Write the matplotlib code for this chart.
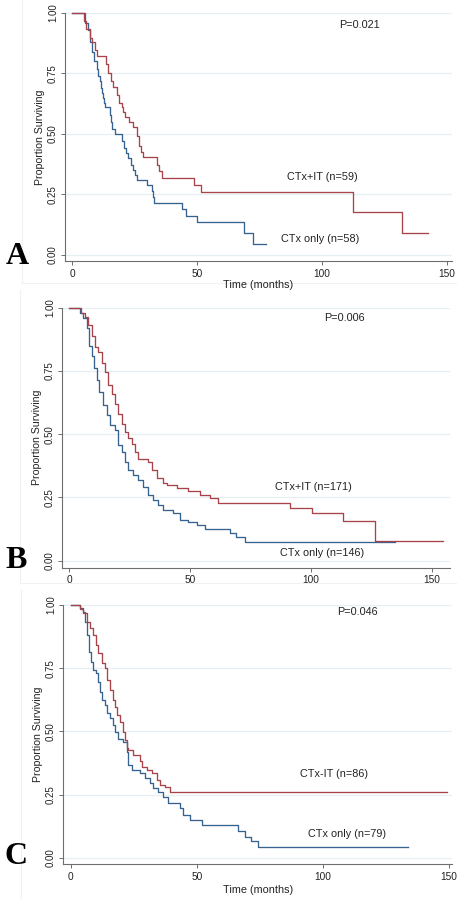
import matplotlib
matplotlib.use("Agg")
import matplotlib.pyplot as plt
from matplotlib.lines import Line2D

W, H = 457, 899
DPI = 100

# ---------------- data ----------------
# Panel A
a_it_t = [0, 4.8, 5.7, 7.0, 8.0, 9.0, 10.0, 13.6, 14.5, 15.5, 16.3, 18.1, 18.9, 19.9, 20.4, 21.0,
          22.9, 24.5, 26.1, 26.8, 27.5, 28.3, 34.1, 34.9, 35.9, 48.8, 51.7, 112.5, 131.9, 142.3]
a_it_s = [1.0, 0.966, 0.932, 0.898, 0.881, 0.847, 0.822, 0.788, 0.754, 0.72, 0.695, 0.661, 0.627, 0.61, 0.59, 0.569,
          0.551, 0.53, 0.49, 0.45, 0.425, 0.404, 0.37, 0.345, 0.317, 0.289, 0.262, 0.176, 0.089, 0.089]
a_ct_t = [0, 5.2, 6.5, 7.2, 7.9, 8.8, 9.9, 10.5, 11.2, 11.6, 12.1, 12.5, 12.9, 13.2, 15.2, 15.6, 15.9,
          17.2, 19.9, 20.8, 21.6, 22.5, 23.5, 24.5, 25.2, 26.1, 29.9, 31.9, 32.5, 32.8, 43.9, 45.6, 50.1,
          68.8, 72.5, 77.6]
a_ct_s = [1.0, 0.96, 0.93, 0.88, 0.84, 0.80, 0.77, 0.74, 0.72, 0.69, 0.67, 0.65, 0.63, 0.61, 0.58, 0.55, 0.52,
          0.50, 0.47, 0.44, 0.42, 0.40, 0.37, 0.35, 0.33, 0.31, 0.29, 0.265, 0.24, 0.215, 0.19, 0.16, 0.135,
          0.0895, 0.044, 0.044]

# Panel B
b_it_t = [0, 5.0, 6.6, 8.0, 9.4, 10.7, 12.1, 13.5, 14.9, 16.3, 17.6, 19.0, 20.4, 21.8, 23.1, 24.5, 25.9,
          27.3, 28.7, 32.8, 34.2, 36.2, 39.0, 40.4, 44.5, 49.3, 54.1, 58.3, 61.7, 91.3, 100.2, 113.0, 126.4, 154.6]
b_it_s = [1.0, 0.98, 0.965, 0.93, 0.89, 0.846, 0.826, 0.78, 0.747, 0.694, 0.66, 0.62, 0.58, 0.54, 0.51, 0.484,
          0.46, 0.43, 0.40, 0.39, 0.358, 0.328, 0.306, 0.30, 0.286, 0.275, 0.26, 0.246, 0.227, 0.207, 0.187,
          0.157, 0.078, 0.078]
b_ct_t = [0, 4.5, 5.9, 7.3, 8.4, 9.4, 10.5, 11.4, 12.5, 14.2, 15.6, 16.9, 19.0, 20.4, 21.8, 23.1, 24.5,
          26.6, 28.7, 30.7, 32.8, 34.8, 36.9, 39.0, 43.0, 45.9, 49.3, 52.8, 56.2, 66.5, 69.0, 72.7, 134.7]
b_ct_s = [1.0, 0.98, 0.96, 0.92, 0.85, 0.81, 0.76, 0.714, 0.668, 0.615, 0.576, 0.536, 0.516, 0.457, 0.43,
          0.39, 0.358, 0.339, 0.319, 0.29, 0.26, 0.24, 0.22, 0.20, 0.187, 0.16, 0.152, 0.141, 0.124, 0.111,
          0.095, 0.072, 0.072]

# Panel C
c_it_t = [0, 3.7, 5.0, 6.3, 7.7, 9.0, 10.0, 11.0, 12.3, 13.6, 14.6, 15.6, 16.7, 17.6, 18.5, 19.6, 20.6,
          21.6, 22.2, 22.9, 24.9, 27.5, 28.2, 30.2, 32.1, 34.1, 35.4, 37.4, 39.4, 149.3]
c_it_s = [1.0, 0.985, 0.967, 0.934, 0.908, 0.881, 0.842, 0.809, 0.769, 0.749, 0.703, 0.664, 0.624, 0.598,
          0.565, 0.538, 0.499, 0.466, 0.433, 0.426, 0.406, 0.383, 0.36, 0.347, 0.334, 0.307, 0.288, 0.281,
          0.261, 0.261]
c_ct_t = [0, 3.7, 4.8, 5.7, 6.6, 7.4, 7.9, 8.7, 10.0, 11.0, 11.6, 12.3, 13.6, 14.6, 15.6, 16.7, 17.6,
          18.9, 20.9, 22.2, 22.9, 24.2, 27.5, 29.5, 31.5, 32.8, 34.8, 36.8, 38.8, 43.4, 44.7, 47.4, 52.0,
          66.4, 69.0, 71.7, 74.3, 133.9]
c_ct_s = [1.0, 0.99, 0.974, 0.934, 0.88, 0.815, 0.776, 0.743, 0.73, 0.697, 0.657, 0.624, 0.604, 0.571,
          0.551, 0.525, 0.499, 0.47, 0.459, 0.42, 0.367, 0.347, 0.334, 0.317, 0.294, 0.274, 0.261, 0.241,
          0.215, 0.195, 0.169, 0.149, 0.129, 0.106, 0.083, 0.066, 0.044, 0.044]

panel_letters = ["A", "B", "C"]
p_values = ["P=0.021", "P=0.006", "P=0.046"]
it_labels = ["CTx+IT (n=59)", "CTx+IT (n=171)", "CTx-IT (n=86)"]
ct_labels = ["CTx only (n=58)", "CTx only (n=146)", "CTx only (n=79)"]
x_ticks = [0, 50, 100, 150]
y_ticks = [0.0, 0.25, 0.5, 0.75, 1.0]

RED = "#a8434a"
BLUE = "#35628f"
GRID = "#e6eff2"
SPINE = "#6e6e6e"
FONT = "Liberation Sans"

fig = plt.figure(figsize=(W / DPI, H / DPI), dpi=DPI)

def fx(px):
    return px / W

def fy(py):
    return 1 - py / H

# faint graph-region borders
for (x0, y0, y1) in [(22, 0, 283), (20, 290, 583), (21, 590, 899)]:
    fig.add_artist(Line2D([fx(x0), fx(x0)], [fy(y0), fy(y1)], color="#f1f1f1", lw=0.8))
    fig.add_artist(Line2D([fx(x0), 1], [fy(y1), fy(y1)], color="#f1f1f1", lw=0.8))

panels = [
    dict(l=65, r=452, top=13, bot=261, xlim=(-2.8, 152.0), ylo=-0.025,
         it=(a_it_t, a_it_s), ct=(a_ct_t, a_ct_s),
         ptxt=(115.2, 0.95), itxt=(100.0, 0.322), ctxt=(99.2, 0.066),
         letter=(17, 256), ylab=(40, 137), xlab=(258, 285)),
    dict(l=62, r=450, top=307.7, bot=567.7, xlim=(-2.9, 157.4), ylo=-0.0277,
         it=(b_it_t, b_it_s), ct=(b_ct_t, b_ct_s),
         ptxt=(113.6, 0.959), itxt=(100.8, 0.291), ctxt=(104.5, 0.030),
         letter=(16, 560), ylab=(37, 437), xlab=None),
    dict(l=63, r=451.7, top=605, bot=864, xlim=(-3.06, 151.2), ylo=-0.025,
         it=(c_it_t, c_it_s), ct=(c_ct_t, c_ct_s),
         ptxt=(113.6, 0.972), itxt=(104.5, 0.331), ctxt=(109.6, 0.094),
         letter=(16, 857), ylab=(38, 734), xlab=(258, 890)),
]

for i, p in enumerate(panels):
    ax = fig.add_axes([fx(p["l"]), fy(p["bot"]), (p["r"] - p["l"]) / W, (p["bot"] - p["top"]) / H])
    ax.set_xlim(*p["xlim"])
    ax.set_ylim(p["ylo"], 1.0)
    for yv in y_ticks:
        ax.axhline(yv, color=GRID, lw=0.9, zorder=0)
    ax.step(p["ct"][0], p["ct"][1], where="post", color=BLUE, lw=0.95, clip_on=False, zorder=3)
    ax.step(p["it"][0], p["it"][1], where="post", color=RED, lw=0.95, clip_on=False, zorder=3)
    for s in ["top", "right"]:
        ax.spines[s].set_visible(False)
    for s in ["left", "bottom"]:
        ax.spines[s].set_color(SPINE)
        ax.spines[s].set_linewidth(0.8)
    ax.set_xticks(x_ticks)
    ax.set_xticklabels([str(v) for v in x_ticks], fontsize=7.3, family=FONT, color="#222222")
    ax.set_yticks(y_ticks)
    ax.set_yticklabels(["%.2f" % v for v in y_ticks], fontsize=7.0, family=FONT,
                       rotation=90, va="center", color="#222222")
    ax.tick_params(axis="both", direction="out", length=3, width=0.7, color=SPINE)
    ax.tick_params(axis="x", pad=2.5)
    ax.tick_params(axis="y", pad=2)
    ax.set_facecolor("none")

    ax.text(*p["ptxt"], p_values[i], ha="center", va="center", fontsize=7.8, family=FONT, color="#222222")
    ax.text(*p["itxt"], it_labels[i], ha="center", va="center", fontsize=7.8, family=FONT, color="#222222")
    ax.text(*p["ctxt"], ct_labels[i], ha="center", va="center", fontsize=7.8, family=FONT, color="#222222")

    fig.text(fx(p["letter"][0]), fy(p["letter"][1]), panel_letters[i], ha="center", va="center",
             fontsize=23, fontweight="bold", family="Liberation Serif", color="black")
    fig.text(fx(p["ylab"][0]), fy(p["ylab"][1]), "Proportion Surviving", rotation=90,
             ha="center", va="center", fontsize=7.6, family=FONT, color="#222222")
    if p["xlab"] is not None:
        fig.text(fx(p["xlab"][0]), fy(p["xlab"][1]), "Time (months)", ha="center", va="center",
                 fontsize=7.8, family=FONT, color="#222222")

fig.savefig("out.png", dpi=DPI, facecolor="white")
